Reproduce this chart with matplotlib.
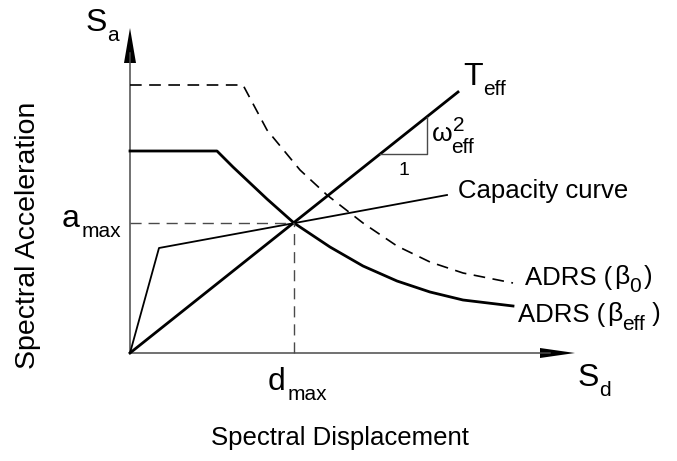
import numpy as np
import matplotlib.pyplot as plt

plt.rcParams['font.family'] = ['Liberation Sans', 'DejaVu Sans']

# schematic values (Sd, Sa) in drawing units, origin at axes corner
adrs0_sd = [0, 113, 137, 170, 197, 233, 267, 300, 333, 383]
adrs0_sa = [268, 268, 223, 183, 158, 130, 107, 91, 80, 70]
adrseff_sd = [0, 87, 103, 120, 137, 164, 200, 233, 267, 300, 333, 383]
adrseff_sa = [202, 202, 186, 170, 154, 130, 106, 87, 72, 61, 53, 47]
cap_sd = [0, 29, 317]
cap_sa = [0, 105, 158]
teff_sd = [0, 328]
teff_sa = [0, 261]
d_max, a_max = 164, 130
tri_sd = [250, 297, 297]
tri_sa = [199, 199, 236]

fig = plt.figure(figsize=(6.77, 4.61), dpi=100)
ax = fig.add_axes([0, 0, 1, 1])
ax.set_xlim(-130, 547)
ax.set_ylim(-108, 353)
ax.axis('off')


def label(x, y, pieces, ha='left'):
    # pieces: (text, fontsize, baseline shift in points, gap in points)
    first = ax.text(x, y, pieces[0][0], fontsize=pieces[0][1], va='baseline', ha=ha)
    prev = first
    for txt, size, dy, gap in pieces[1:]:
        prev = ax.annotate(txt, xy=(1, 0), xycoords=(prev, first),
                           xytext=(gap, dy + 4.5), textcoords='offset points',
                           fontsize=size, va='baseline', ha='left')
    return first


axc = '#4a4a4a'
# axes with arrows
ax.plot([0, 0], [0, 300], color=axc, lw=1.1)
ax.plot([0, 420], [0, 0], color=axc, lw=1.1)
ax.fill([-6, 6, 0], [290, 290, 325], color='black', lw=0)
ax.fill([410, 410, 445], [5, -5, 0], color='black', lw=0)

ax.plot(adrs0_sd, adrs0_sa, color='black', lw=1.2, ls=(0, (7, 4.5)))
ax.plot(adrseff_sd, adrseff_sa, color='black', lw=2.0)
ax.plot(cap_sd, cap_sa, color='black', lw=1.3)
ax.plot(teff_sd, teff_sa, color='black', lw=2.0)
ax.plot(tri_sd, tri_sa, color=axc, lw=1.0)
ax.plot([0, d_max], [a_max, a_max], color=axc, lw=1.0, ls=(0, (8, 5)))
ax.plot([d_max, d_max], [0, a_max], color=axc, lw=1.0, ls=(0, (8, 5)))

big, sub = 23, 15
label(-44, 322, [('S', big, 0, 0), ('a', sub, -7, 0)])
label(448, -33, [('S', big, 0, 0), ('d', sub, -7, 0)])
label(-68, 126, [('a', big, 0, 0), ('max', sub, -7, 1)])
label(138, -37, [('d', big, 0, 0), ('max', sub, -7, 1)])
label(333, 268, [('T', big, 0, 0), ('eff', sub, -7, 0)])
w = ax.text(302, 212, '\u03c9', fontsize=19, va='baseline')
ax.annotate('2', xy=(1, 0), xycoords=w, xytext=(0, 11), textcoords='offset points',
            fontsize=sub, va='baseline')
ax.annotate('eff', xy=(1, 0), xycoords=w, xytext=(-1, -5), textcoords='offset points',
            fontsize=sub, va='baseline')
ax.text(268, 178, '1', fontsize=14, va='baseline')
ax.text(328, 155, 'Capacity curve', fontsize=18.5, va='baseline')
label(395, 68, [('ADRS (', 18.5, 0, 0), ('\u03b2', 19, 0, 1), ('0', sub, -6, 0),
                (')', 18.5, 0, 2)])
label(388, 31, [('ADRS (', 18.5, 0, 0), ('\u03b2', 19, 0, 1), ('eff', sub, -7, 0),
                (' )', 18.5, 0, 0)])
ax.text(210, -85, 'Spectral Displacement', fontsize=18.5, ha='center', va='center')
ax.text(-102, 118, 'Spectral Acceleration', fontsize=20.5, ha='center', va='center',
        rotation=90)

fig.savefig('out.png', dpi=100)
